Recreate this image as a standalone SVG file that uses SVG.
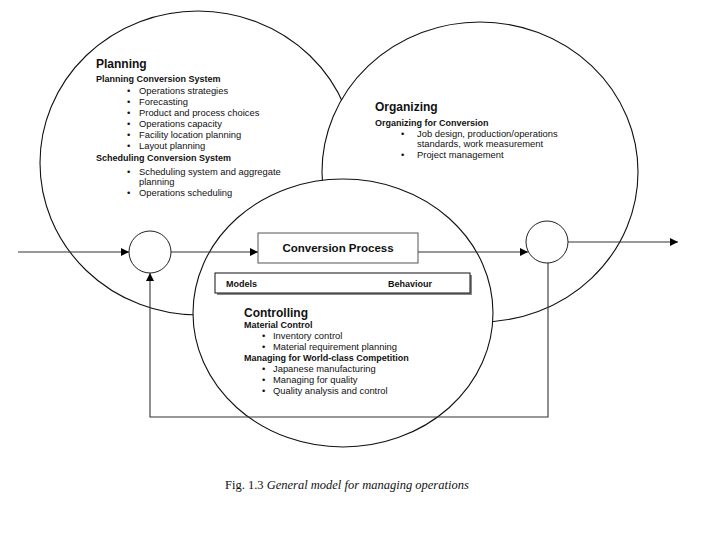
<svg xmlns="http://www.w3.org/2000/svg" width="720" height="540" viewBox="0 0 720 540">
<defs>
<marker id="ah" viewBox="0 0 10 10" refX="10" refY="5" markerWidth="9" markerHeight="8" markerUnits="userSpaceOnUse" orient="auto">
<path d="M0,0 L10,5 L0,10 z" fill="#000"/>
</marker>
</defs>
<style>
.big{fill:#fff;stroke:#111;stroke-width:1.1}
.sm{fill:#fff;stroke:#222;stroke-width:1}
.ln{fill:none;stroke:#333;stroke-width:1.1}
text{font-family:"Liberation Sans",Arial,sans-serif;fill:#111}
.t{font-size:12px;font-weight:bold}
.h{font-size:9px;font-weight:bold}
.b{font-size:9.4px}
.cap{font-family:"Liberation Serif","Times New Roman",serif;font-size:12.5px}
</style>
<rect width="720" height="540" fill="#fff"/>
<g id="planning">
<ellipse class="big" cx="198" cy="163" rx="158" ry="152"/>
<text class="t" x="96" y="68">Planning</text>
<text class="h" x="96" y="82">Planning Conversion System</text>
<g class="b">
<text x="127" y="94">•</text><text x="139" y="94">Operations strategies</text>
<text x="127" y="105">•</text><text x="139" y="105">Forecasting</text>
<text x="127" y="116">•</text><text x="139" y="116">Product and process choices</text>
<text x="127" y="127">•</text><text x="139" y="127">Operations capacity</text>
<text x="127" y="138">•</text><text x="139" y="138">Facility location planning</text>
<text x="127" y="149">•</text><text x="139" y="149">Layout planning</text>
</g>
<text class="h" x="96" y="161">Scheduling Conversion System</text>
<g class="b">
<text x="127" y="175">•</text><text x="139" y="175">Scheduling system and aggregate</text>
<text x="139" y="185">planning</text>
<text x="127" y="196">•</text><text x="139" y="196">Operations scheduling</text>
</g>
</g>
<g id="organizing">
<ellipse class="big" cx="480" cy="172" rx="158" ry="150"/>
<text class="t" x="375" y="111">Organizing</text>
<text class="h" x="375" y="126">Organizing for Conversion</text>
<g class="b">
<text x="401" y="137">•</text><text x="417" y="137">Job design, production/operations</text>
<text x="417" y="147">standards, work measurement</text>
<text x="401" y="158">•</text><text x="417" y="158">Project management</text>
</g>
</g>
<g id="controlling">
<ellipse class="big" cx="343" cy="313" rx="150" ry="134"/>
<text class="t" x="244" y="317">Controlling</text>
<text class="h" x="244" y="328">Material Control</text>
<g class="b">
<text x="262" y="339">•</text><text x="273" y="339">Inventory control</text>
<text x="262" y="350">•</text><text x="273" y="350">Material requirement planning</text>
</g>
<text class="h" x="244" y="361">Managing for World-class Competition</text>
<g class="b">
<text x="262" y="372">•</text><text x="273" y="372">Japanese manufacturing</text>
<text x="262" y="383">•</text><text x="273" y="383">Managing for quality</text>
<text x="262" y="394">•</text><text x="273" y="394">Quality analysis and control</text>
</g>
</g>
<g id="connectors">
<line class="ln" x1="18" y1="252" x2="129" y2="252" marker-end="url(#ah)"/>
<line class="ln" x1="171" y1="252" x2="258" y2="252" marker-end="url(#ah)"/>
<line class="ln" x1="418" y1="252" x2="528" y2="252" marker-end="url(#ah)"/>
<line class="ln" x1="568" y1="242" x2="678" y2="242" marker-end="url(#ah)"/>
<path class="ln" d="M548,263 V417 H150 V273" marker-end="url(#ah)"/>
</g>
<g id="conversion-process">
<rect x="258" y="233" width="160" height="30" fill="#fff" stroke="#555" stroke-width="1"/>
<text x="338" y="252" text-anchor="middle" style="font-size:11.5px;font-weight:bold">Conversion Process</text>
</g>
<g id="models-behaviour">
<rect x="217" y="275" width="255" height="20" fill="#888"/>
<rect x="215" y="273" width="255" height="20" fill="#fff" stroke="#111" stroke-width="1"/>
<text class="h" x="226" y="287">Models</text>
<text class="h" x="388" y="287">Behaviour</text>
</g>
<g id="sum-left">
<circle class="sm" cx="150" cy="252" r="21"/>
</g>
<g id="sum-right">
<circle class="sm" cx="547" cy="242" r="21"/>
</g>
<text class="cap" x="225" y="489">Fig. 1.3 <tspan font-style="italic">General model for managing operations</tspan></text>
</svg>
